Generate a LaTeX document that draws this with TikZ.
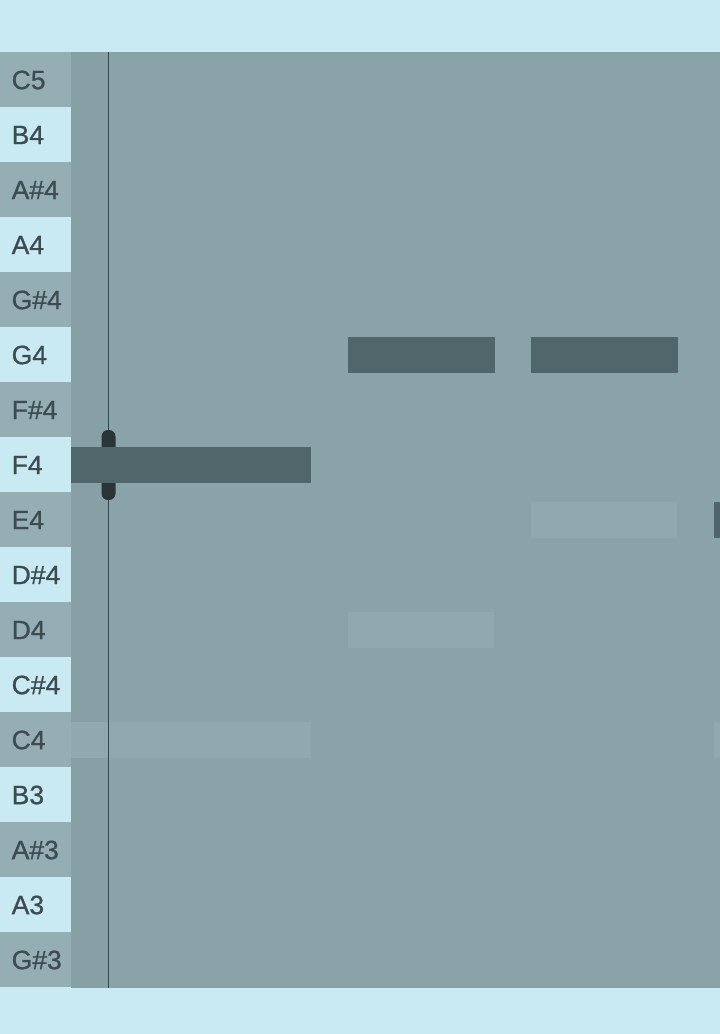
\documentclass[tikz,border=0pt]{standalone}
\usepackage{fontspec}
\setmainfont{Liberation Sans}
\newfontfamily\keyfont[FakeBold=0.9]{Liberation Sans}
\definecolor{bglight}{HTML}{C9EAF2}
\definecolor{labgray}{HTML}{94AEB4}
\definecolor{mainbg}{HTML}{8AA3A9}
\definecolor{stripbg}{HTML}{86A0A5}
\definecolor{darknotec}{HTML}{51666B}
\definecolor{faintnotec}{HTML}{8FA9AF}
\definecolor{textc}{HTML}{3E4C51}
\definecolor{linec}{HTML}{37464A}
\definecolor{handlec}{HTML}{2B3437}
\tikzset{
  notebar/.style={anchor=north west, inner sep=0pt, outer sep=0pt, minimum height=36pt},
  darknote/.style={notebar, fill=darknotec},
  faintnote/.style={notebar, fill=faintnotec},
  keylabel/.style={anchor=west, inner sep=0pt, text=textc, font=\keyfont\fontsize{26.5}{26.5}\selectfont},
}
\begin{document}
\begin{tikzpicture}[x=1pt,y=-1pt]
\fill[bglight] (0,0) rectangle (720,1034);
\useasboundingbox (0,0) rectangle (720,1034);
% main grid area
\fill[mainbg] (71,52) rectangle (720,988);
\fill[stripbg] (71,52) rectangle (108,988);
% key labels
\foreach \n [count=\i from 0] in {C5,B4,A\#4,A4,G\#4,G4,F\#4,F4,E4,D\#4,D4,C\#4,C4,B3,A\#3,A3,G\#3} {
  \pgfmathsetmacro{\ytop}{52+55*\i}
  \pgfmathtruncatemacro{\odd}{mod(\i,2)}
  \ifnum\odd=0
    \fill[labgray] (0,\ytop) rectangle (71,\ytop+55);
  \else
    \fill[bglight] (0,\ytop) rectangle (71,\ytop+55);
  \fi
  \node[keylabel] (key\i) at (11.5,\ytop+28) {\n};
}
% faint notes
\node[faintnote, minimum width=146pt] (d4) at (348,612) {};
\node[faintnote, minimum width=146pt] (e4) at (531,502) {};
\node[faintnote, minimum width=240pt] (c4) at (71,722) {};
\node[faintnote, minimum width=6pt] (c4b) at (714,722) {};
% playhead
\coordinate (ptop) at (108.5,52);
\coordinate (pbot) at (108.5,988);
\draw[linec, line width=1.5pt] (ptop) -- (pbot);
\fill[handlec, rounded corners=6.5pt] (101.5,430) rectangle (115.5,500);
% dark notes
\node[darknote, minimum width=240pt] (f4) at (71,447) {};
\node[darknote, minimum width=147pt] (g4a) at (348,337) {};
\node[darknote, minimum width=147pt] (g4b) at (531,337) {};
\node[darknote, minimum width=6pt] (e4b) at (714,502) {};
\end{tikzpicture}
\end{document}
